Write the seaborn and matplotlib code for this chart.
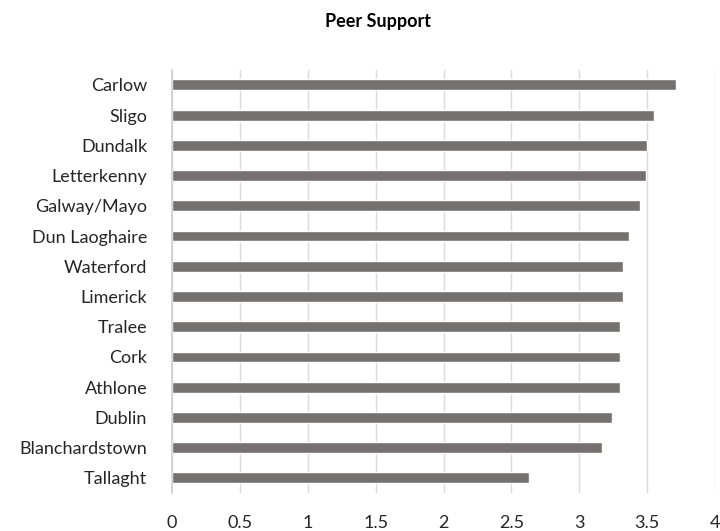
import matplotlib
matplotlib.use("Agg")
import matplotlib.pyplot as plt
import seaborn as sns
import pandas as pd

# === Data ===
centres = ["Carlow", "Sligo", "Dundalk", "Letterkenny", "Galway/Mayo", "Dun Laoghaire",
           "Waterford", "Limerick", "Tralee", "Cork", "Athlone", "Dublin",
           "Blanchardstown", "Tallaght"]
scores = [3.71, 3.55, 3.50, 3.49, 3.45, 3.37, 3.32, 3.32, 3.30, 3.30, 3.30, 3.24, 3.17, 2.63]
x_ticks = [0, 0.5, 1, 1.5, 2, 2.5, 3, 3.5, 4]
x_labels = ["0", "0.5", "1", "1.5", "2", "2.5", "3", "3.5", "4"]

df = pd.DataFrame({"centre": centres, "score": scores})

# === Plot ===
sns.set_style("white")
plt.rcParams["font.family"] = ["Lato", "DejaVu Sans"]

fig = plt.figure(figsize=(7.2, 5.31), dpi=100)
ax = fig.add_axes([0.239, 0.0716, 0.754, 0.797])

sns.barplot(data=df, x="score", y="centre", color="#767171", saturation=1,
            width=0.36, ax=ax)

ax.set_xlim(0, 4)
ax.set_xticks(x_ticks)
ax.set_xticklabels(x_labels, fontsize=13, color="#262626")
ax.tick_params(axis="y", labelsize=13, colors="#262626", length=0, pad=18)
ax.tick_params(axis="x", length=0, pad=16)
ax.set_xlabel("")
ax.set_ylabel("")
ax.xaxis.grid(True, color="#dadada", linestyle="-", linewidth=1.0)
ax.set_axisbelow(True)

for side in ["top", "right", "bottom"]:
    ax.spines[side].set_visible(False)
ax.spines["left"].set_color("#d0d0d0")
ax.spines["left"].set_linewidth(1.2)

fig.suptitle("Peer Support", x=0.525, y=0.975, fontsize=13, fontweight="bold", color="#000000")

plt.savefig("out.png", dpi=100)
plt.close()
